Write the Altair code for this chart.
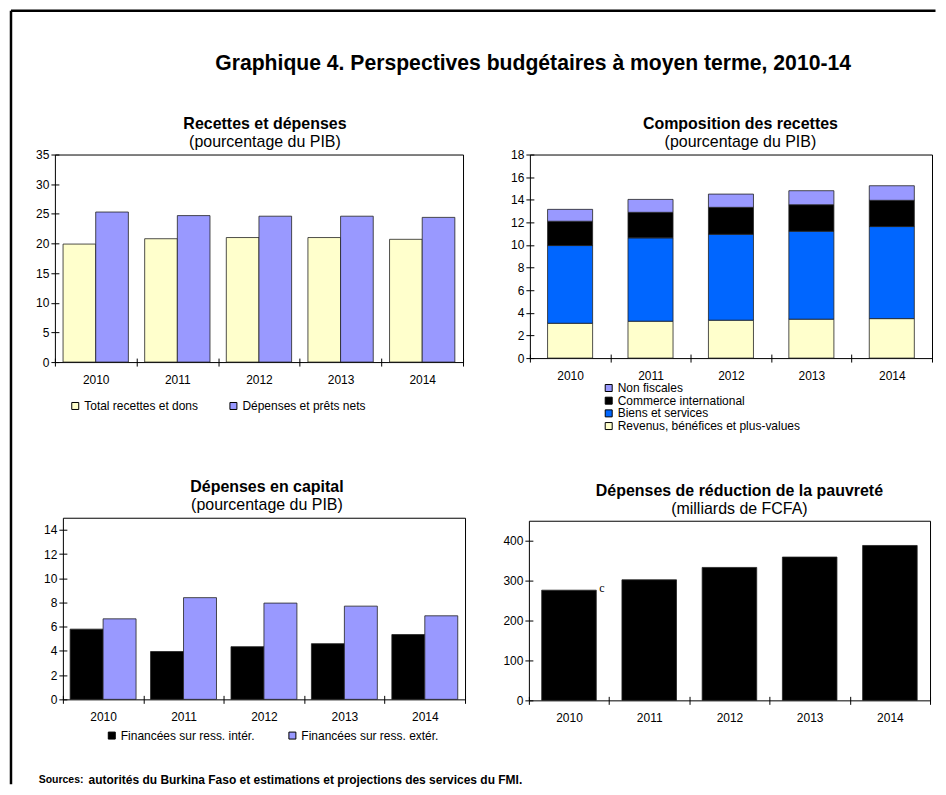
import altair as alt
import pandas as pd

FONT = "Liberation Sans"

years = ["2010", "2011", "2012", "2013", "2014"]

main_title = "Graphique 4. Perspectives budgétaires à moyen terme, 2010-14"
sources_label = "Sources:"
sources_text = "autorités du Burkina Faso et estimations et projections des services du FMI."

# Panel 1 : Recettes et dépenses
p1_title = "Recettes et dépenses"
p1_subtitle = "(pourcentage du PIB)"
p1_series = ["Total recettes et dons", "Dépenses et prêts nets"]
p1_colors = ["#FFFFCC", "#9999FF"]
p1_recettes = [19.9, 20.8, 21.0, 21.0, 20.7]
p1_depenses = [25.3, 24.7, 24.6, 24.6, 24.4]
p1_ticks = [0, 5, 10, 15, 20, 25, 30, 35]

# Panel 2 : Composition des recettes
p2_title = "Composition des recettes"
p2_subtitle = "(pourcentage du PIB)"
p2_series = ["Non fiscales", "Commerce international", "Biens et services",
             "Revenus, bénéfices et plus-values"]
p2_colors = ["#9999FF", "#000000", "#0066FF", "#FFFFCC"]
p2_revenus = [3.08, 3.26, 3.35, 3.44, 3.49]
p2_biens = [6.87, 7.37, 7.60, 7.78, 8.14]
p2_commerce = [2.15, 2.26, 2.38, 2.34, 2.32]
p2_nonfiscales = [1.05, 1.14, 1.17, 1.24, 1.29]
p2_ticks = [0, 2, 4, 6, 8, 10, 12, 14, 16, 18]

# Panel 3 : Dépenses en capital
p3_title = "Dépenses en capital"
p3_subtitle = "(pourcentage du PIB)"
p3_series = ["Financées sur ress. intér.", "Financées sur ress. extér."]
p3_colors = ["#000000", "#9999FF"]
p3_interieur = [5.8, 3.95, 4.35, 4.6, 5.35]
p3_exterieur = [6.65, 8.4, 7.95, 7.7, 6.9]
p3_ticks = [0, 2, 4, 6, 8, 10, 12, 14]

# Panel 4 : Dépenses de réduction de la pauvreté
p4_title = "Dépenses de réduction de la pauvreté"
p4_subtitle = "(milliards de FCFA)"
p4_values = [276, 302, 333, 359, 388]
p4_ticks = [0, 100, 200, 300, 400]
p4_note_year = ["2010"]
p4_note_text = ["c"]

# ---------------------------------------------------------------- helpers
BAR_STROKE = "#222222"


def x_axis():
    # ticks cross the bottom border (axis pulled 4px inside the plot)
    return alt.Axis(title=None, tickBand="extent", tickSize=8, labelPadding=8,
                    labelAngle=0, domain=False, offset=-4)


def y_axis(vals):
    return alt.Axis(values=vals, title=None, grid=False, tickSize=8,
                    labelPadding=2, labelOverlap=False, domain=False, offset=-4)


def ptitle(t, s, dx, offset=-1):
    return alt.TitleParams(text=t, subtitle=s, fontSize=16, subtitleFontSize=16,
                           font=FONT, subtitleFont=FONT, fontWeight="bold",
                           subtitleFontWeight="normal", color="black",
                           subtitleColor="black", anchor="middle", offset=offset,
                           subtitlePadding=2, dx=dx)


def legend(x, y, direction, colpad=30):
    return alt.Legend(title=None, orient="none", legendX=x, legendY=y,
                      direction=direction, symbolType="square", symbolSize=49,
                      symbolStrokeColor="black", symbolStrokeWidth=1,
                      symbolOpacity=1, labelFontSize=12, labelFont=FONT,
                      labelColor="black", labelOffset=3, labelLimit=400,
                      columnPadding=colpad, rowPadding=0.7, padding=0)


def spacer(w, h):
    return (alt.Chart(pd.DataFrame({"v": [0]}))
            .mark_point(opacity=0, size=0)
            .encode(x=alt.value(0), y=alt.value(0))
            .properties(width=w, height=h,
                        view=alt.ViewBackground(stroke="transparent")))


xband = alt.Scale(paddingInner=0, paddingOuter=0)

# ---------------------------------------------------------------- panel 1
p1_df = pd.DataFrame({
    "year": years * 2,
    "series": [p1_series[0]] * len(years) + [p1_series[1]] * len(years),
    "value": p1_recettes + p1_depenses,
})
tl = alt.Chart(p1_df).mark_bar(stroke=BAR_STROKE, strokeWidth=0.8).encode(
    x=alt.X("year:N", sort=years, scale=xband, axis=x_axis()),
    xOffset=alt.XOffset("series:N", sort=p1_series,
                        scale=alt.Scale(paddingInner=0, paddingOuter=0.25)),
    y=alt.Y("value:Q", scale=alt.Scale(domain=[0, 35], nice=False),
            axis=y_axis(p1_ticks)),
    color=alt.Color("series:N", scale=alt.Scale(domain=p1_series, range=p1_colors),
                    legend=legend(14.4, 246, "horizontal", 28.5)),
).properties(width=409, height=208, title=ptitle(p1_title, p1_subtitle, 6))

# ---------------------------------------------------------------- panel 2
p2_rows = []
for i, y in enumerate(years):
    for k, (name, vals) in enumerate([(p2_series[3], p2_revenus),
                                      (p2_series[2], p2_biens),
                                      (p2_series[1], p2_commerce),
                                      (p2_series[0], p2_nonfiscales)]):
        p2_rows.append({"year": y, "series": name, "value": vals[i], "ord": k})
p2_df = pd.DataFrame(p2_rows)
tr = alt.Chart(p2_df).mark_bar(width=alt.RelativeBandSize(0.56), stroke=BAR_STROKE,
                               strokeWidth=0.8).encode(
    x=alt.X("year:N", sort=years, scale=xband, axis=x_axis()),
    y=alt.Y("value:Q", stack="zero", scale=alt.Scale(domain=[0, 18], nice=False),
            axis=y_axis(p2_ticks)),
    color=alt.Color("series:N", scale=alt.Scale(domain=p2_series, range=p2_colors),
                    legend=legend(73, 228, "vertical")),
    order=alt.Order("ord:Q", sort="ascending"),
).properties(width=403, height=204, title=ptitle(p2_title, p2_subtitle, 9.5))

# ---------------------------------------------------------------- panel 3
p3_df = pd.DataFrame({
    "year": years * 2,
    "series": [p3_series[0]] * len(years) + [p3_series[1]] * len(years),
    "value": p3_interieur + p3_exterieur,
})
bl = alt.Chart(p3_df).mark_bar(stroke=BAR_STROKE, strokeWidth=0.8).encode(
    x=alt.X("year:N", sort=years, scale=xband, axis=x_axis()),
    xOffset=alt.XOffset("series:N", sort=p3_series,
                        scale=alt.Scale(paddingInner=0, paddingOuter=0.22)),
    y=alt.Y("value:Q", scale=alt.Scale(domain=[0, 15], nice=False),
            axis=y_axis(p3_ticks)),
    color=alt.Color("series:N", scale=alt.Scale(domain=p3_series, range=p3_colors),
                    legend=legend(43, 212.3, "horizontal", 31)),
).properties(width=403, height=182, title=ptitle(p3_title, p3_subtitle, 3, 4.5))

# ---------------------------------------------------------------- panel 4
p4_df = pd.DataFrame({"year": years, "value": p4_values})
p4_note_df = pd.DataFrame({
    "year": p4_note_year,
    "value": [p4_values[years.index(y)] for y in p4_note_year],
    "note": p4_note_text,
})
br_bars = alt.Chart(p4_df).mark_bar(width=alt.RelativeBandSize(0.68), color="black",
                                    stroke=BAR_STROKE, strokeWidth=0.8).encode(
    x=alt.X("year:N", sort=years, scale=xband, axis=x_axis()),
    y=alt.Y("value:Q", scale=alt.Scale(domain=[0, 450], nice=False),
            axis=y_axis(p4_ticks)),
)
br_note = alt.Chart(p4_note_df).mark_text(font="Liberation Serif", fontSize=12,
                                          dx=33, dy=-2, align="center",
                                          baseline="middle", color="black").encode(
    x=alt.X("year:N", sort=years),
    y=alt.Y("value:Q"),
    text="note:N",
)
br = alt.layer(br_bars, br_note).properties(
    width=402, height=180, title=ptitle(p4_title, p4_subtitle, 10, 4))

# ---------------------------------------------------------------- header / frame
one = pd.DataFrame({"k": [0]})
frame_top = alt.Chart(one).mark_rule(color="black", strokeWidth=2.5).encode(
    x=alt.value(0), x2=alt.value(926.5), y=alt.value(0))
frame_left = alt.Chart(one).mark_rule(color="black", strokeWidth=2.5).encode(
    x=alt.value(0), y=alt.value(0), y2=alt.value(775))
title_mark = alt.Chart(pd.DataFrame({"t": [main_title]})).mark_text(
    font=FONT, fontSize=21.2, fontWeight="bold", align="center", baseline="middle",
    color="black").encode(text="t:N", x=alt.value(523.25), y=alt.value(53.75))
src_label = alt.Chart(pd.DataFrame({"t": [sources_label]})).mark_text(
    font=FONT, fontSize=10.5, fontWeight="bold", align="left", baseline="middle",
    color="black").encode(text="t:N", x=alt.value(27.75), y=alt.value(771))
src_text = alt.Chart(pd.DataFrame({"t": [sources_text]})).mark_text(
    font=FONT, fontSize=12, fontWeight="bold", align="left", baseline="middle",
    color="black").encode(text="t:N", x=alt.value(77.75), y=alt.value(771))
header = alt.layer(frame_top, frame_left, title_mark, src_label, src_text).properties(
    width=926, height=144, view=alt.ViewBackground(stroke="transparent"))

# ---------------------------------------------------------------- layout
# with bounds="flush", nested concat rows count as zero height in the parent
res = dict(color="independent", xOffset="independent")

row1 = alt.hconcat(spacer(44, 10), tl, spacer(67, 10), tr,
                   spacing=0, bounds="flush").resolve_scale(**res)
br_col = alt.vconcat(spacer(10, 2.5), br, spacing=0, bounds="flush")
row2 = alt.hconcat(spacer(51.5, 10), bl, spacer(63.5, 10), br_col,
                   spacing=0, bounds="flush").resolve_scale(**res)

chart = alt.vconcat(header, row1, spacer(10, 363.5), row2,
                    spacing=0, bounds="flush").resolve_scale(**res).properties(
    padding={"left": 1, "top": 0, "right": 0, "bottom": 0}
).configure(font=FONT).configure_axis(
    labelFont=FONT, labelFontSize=12, labelColor="black", domainColor="black",
    tickColor="black", domainWidth=1, tickWidth=1, grid=False,
).configure_view(stroke="black", strokeWidth=1)

chart.save("out.html", embed_options={"renderer": "svg", "actions": False})
